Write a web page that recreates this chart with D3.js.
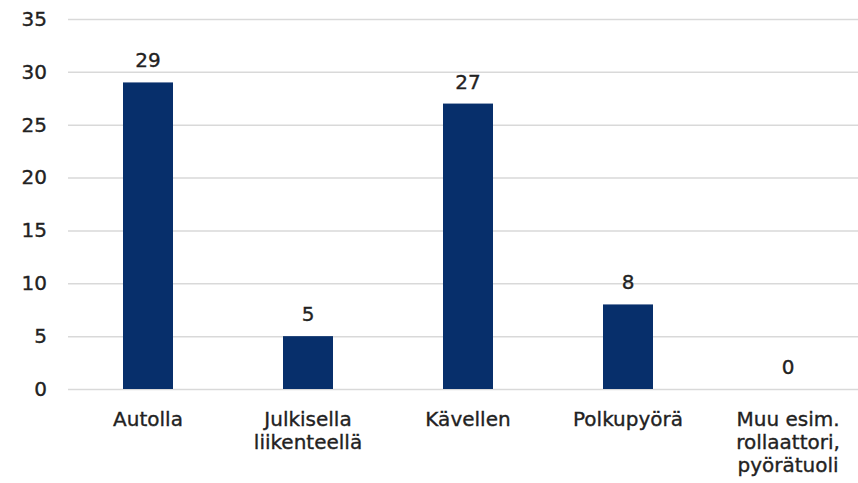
<!DOCTYPE html>
<html>
<head>
<meta charset="utf-8">
<script src="https://cdn.jsdelivr.net/npm/d3@7"></script>
<style>
  html, body { margin: 0; padding: 0; background: #fff; }
  svg { display: block; font-family: "DejaVu Sans", Verdana, sans-serif; }
  svg text { stroke: #222; stroke-width: 0.35px; }
</style>
</head>
<body>
<div id="vis"></div>
<script>
// data
const categories = [
  ["Autolla"],
  ["Julkisella", "liikenteellä"],
  ["Kävellen"],
  ["Polkupyörä"],
  ["Muu esim.", "rollaattori,", "pyörätuoli"]
];
const values = [29, 5, 27, 8, 0];
const yTicks = [0, 5, 10, 15, 20, 25, 30, 35];

const width = 858;
const height = 483;
const margin = { top: 19, right: -10, bottom: 94, left: 68 };
const fontSize = 20;
const barColor = "#072f6b";
const textColor = "#222";

const svg = d3.select("#vis").append("svg")
  .attr("width", width)
  .attr("height", height)
  .attr("viewBox", [0, 0, width, height]);

const x = d3.scaleBand()
  .domain(d3.range(categories.length))
  .range([margin.left, width - margin.right])
  .paddingInner(0.6875)
  .paddingOuter(0.34375);

const y = d3.scaleLinear()
  .domain([0, 35])
  .range([height - margin.bottom, margin.top]);

// gridlines + y labels
const yAxis = svg.append("g")
  .attr("transform", `translate(${margin.left},0)`)
  .call(d3.axisLeft(y).tickValues(yTicks).tickSize(-(width - margin.right - margin.left)).tickPadding(21));
yAxis.select(".domain").remove();
yAxis.selectAll(".tick line").attr("stroke", "#d9d9d9").attr("stroke-width", 1.5);
yAxis.selectAll(".tick text")
  .attr("fill", textColor)
  .style("font-size", fontSize + "px")
  .style("font-family", "DejaVu Sans, Verdana, sans-serif");

// bars
svg.append("g")
  .selectAll("rect")
  .data(values)
  .join("rect")
  .attr("x", (d, i) => x(i))
  .attr("y", d => y(d))
  .attr("width", x.bandwidth())
  .attr("height", d => y(0) - y(d))
  .attr("fill", barColor);

// value labels
svg.append("g")
  .attr("text-anchor", "middle")
  .attr("fill", textColor)
  .style("font-size", fontSize + "px")
  .selectAll("text")
  .data(values)
  .join("text")
  .attr("x", (d, i) => x(i) + x.bandwidth() / 2)
  .attr("y", d => y(d) - 15)
  .text(d => d);

// category labels
const cat = svg.append("g")
  .attr("text-anchor", "middle")
  .attr("fill", textColor)
  .style("font-size", fontSize + "px")
  .selectAll("text")
  .data(categories)
  .join("text")
  .attr("x", (d, i) => x(i) + x.bandwidth() / 2)
  .attr("y", y(0) + 37);

cat.selectAll("tspan")
  .data(d => d)
  .join("tspan")
  .attr("x", function () { return this.parentNode.getAttribute("x"); })
  .attr("dy", (d, i) => i === 0 ? 0 : 23)
  .text(d => d);
</script>
</body>
</html>
